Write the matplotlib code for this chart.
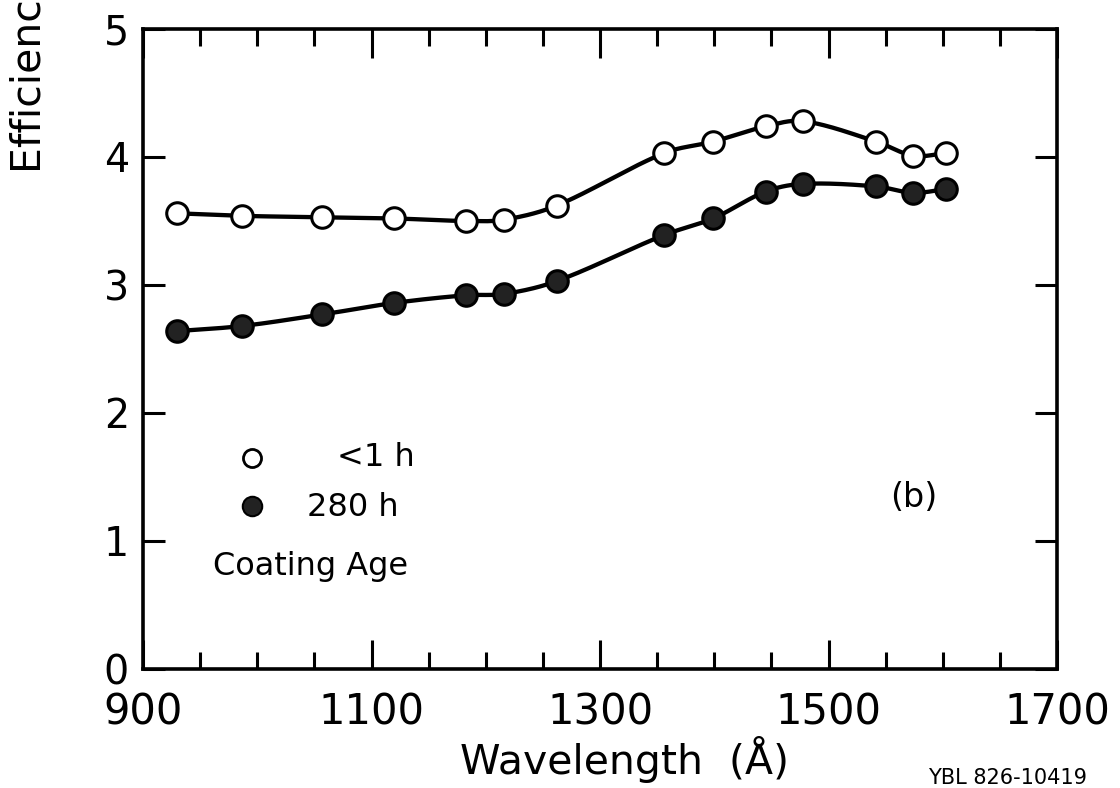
import numpy as np
import matplotlib
matplotlib.use("Agg")
import matplotlib.pyplot as plt
from matplotlib.ticker import MultipleLocator, FixedLocator

# wavelength (Angstrom) of the measured points
wavelength = [930, 987, 1057, 1120, 1183, 1216, 1262, 1356, 1399, 1445, 1478, 1542, 1574, 1603]
# efficiency (%) for the two coating ages
eff_new = [3.56, 3.54, 3.53, 3.52, 3.50, 3.51, 3.62, 4.03, 4.12, 4.24, 4.28, 4.12, 4.01, 4.03]
eff_old = [2.64, 2.68, 2.77, 2.86, 2.92, 2.93, 3.03, 3.39, 3.52, 3.73, 3.79, 3.77, 3.72, 3.75]
legend_labels = ["<1 h", "280 h"]
x_ticks = [900, 1100, 1300, 1500, 1700]

plt.rcParams['font.family'] = ['DejaVu Sans']
W, H = 1120, 788


def smooth(x, y, n=25):
    # piecewise cubic hermite through the points, only used to draw the curve
    x = np.asarray(x, float)
    y = np.asarray(y, float)
    m = np.empty_like(y)
    m[1:-1] = (y[2:] - y[:-2]) / (x[2:] - x[:-2])
    m[0] = (y[1] - y[0]) / (x[1] - x[0])
    m[-1] = (y[-1] - y[-2]) / (x[-1] - x[-2])
    xs, ys = [], []
    for i in range(len(x) - 1):
        h = x[i + 1] - x[i]
        t = np.linspace(0, 1, n, endpoint=False)
        h00 = 2 * t**3 - 3 * t**2 + 1
        h10 = t**3 - 2 * t**2 + t
        h01 = -2 * t**3 + 3 * t**2
        h11 = t**3 - t**2
        xs.append(x[i] + t * h)
        ys.append(h00 * y[i] + h10 * h * m[i] + h01 * y[i + 1] + h11 * h * m[i + 1])
    xs.append([x[-1]])
    ys.append([y[-1]])
    return np.concatenate(xs), np.concatenate(ys)


fig = plt.figure(figsize=(W / 100, H / 100), dpi=100)
ax = fig.add_axes([143 / W, 1 - 669 / H, (1057 - 143) / W, (669 - 29) / H])

for vals, face in [(eff_new, 'white'), (eff_old, '#222222')]:
    sx, sy = smooth(wavelength, vals)
    ax.plot(sx, sy, color='black', lw=3.1, zorder=2)
    ax.plot(wavelength, vals, 'o', ms=15.5, mfc=face, mec='black', mew=2.2, zorder=3)

ax.set_xlim(900, 1700)
ax.set_ylim(0, 5)
ax.xaxis.set_major_locator(FixedLocator(x_ticks))
ax.xaxis.set_minor_locator(MultipleLocator(50))
ax.yaxis.set_major_locator(MultipleLocator(1))
for s in ax.spines.values():
    s.set_linewidth(2.6)
ax.tick_params(axis='x', which='major', direction='in', length=21, width=2.2,
               top=True, labelsize=30, pad=16)
ax.tick_params(axis='x', which='minor', direction='in', length=12, width=2.2, top=True)
ax.tick_params(axis='y', which='major', direction='in', length=16, width=2.2,
               right=True, labelsize=28.5, pad=10)

# legend drawn as plain marks and text
lx = (252 - 143) / (1057 - 143)
ax.plot(lx, (669 - 458) / 640, 'o', ms=13, mfc='white', mec='black', mew=2.0,
        transform=ax.transAxes, clip_on=False)
ax.plot(lx, (669 - 506) / 640, 'o', ms=14, mfc='#222222', mec='black', mew=1.5,
        transform=ax.transAxes, clip_on=False)
fig.text(337 / W, 1 - 458 / H, legend_labels[0], fontsize=23, va='center', ha='left')
fig.text(307 / W, 1 - 507 / H, legend_labels[1], fontsize=23, va='center', ha='left')
fig.text(213 / W, 1 - 567 / H, "Coating Age", fontsize=23, va='center', ha='left')
fig.text(914 / W, 1 - 498 / H, "(b)", fontsize=24, va='center', ha='center')

fig.text(624 / W, 1 - 774 / H, "Wavelength  (Å)", fontsize=29.5, ha='center', va='baseline')
fig.text(30 / W, 1 - 173 / H, "Efficiency (%)", fontsize=29.5, rotation=90,
         ha='center', va='bottom')
fig.text(928 / W, 1 - 768 / H, "YBL 826-10419", fontsize=15, ha='left', va='top')

fig.savefig('out.png', dpi=100)
